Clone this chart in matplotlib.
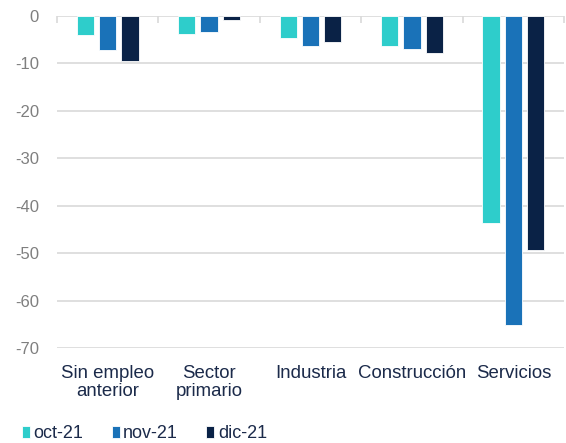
import matplotlib.pyplot as plt
import numpy as np

categories = ['Sin empleo\nanterior', 'Sector\nprimario', 'Industria', 'Construcción', 'Servicios']
oct_21 = [-4.0, -3.7, -4.7, -6.3, -43.7]
nov_21 = [-7.1, -3.4, -6.4, -7.0, -65.2]
dic_21 = [-9.5, -0.9, -5.4, -7.7, -49.4]
series = {'oct-21': oct_21, 'nov-21': nov_21, 'dic-21': dic_21}
colors = ['#2ECDCB', '#1A72B8', '#0A2246']

plt.rcParams['font.family'] = ['Liberation Sans', 'DejaVu Sans']
plt.rcParams['axes.unicode_minus'] = False
navy = '#1B2A4A'
grey = '#7F7F7F'

fig = plt.figure(figsize=(5.66, 4.43), dpi=100)
ax = fig.add_axes([57 / 566, 1 - 348 / 443, 507 / 566, 332 / 443])

x = np.arange(len(categories))
w = 0.17
step = 0.22
for i, (name, vals) in enumerate(series.items()):
    ax.bar(x + (i - 1) * step, vals, width=w, color=colors[i], label=name,
           edgecolor='white', linewidth=0.6, zorder=3)

ax.set_xlim(-0.5, len(categories) - 0.5)
ax.set_ylim(-70, 0)
ax.set_yticks(np.arange(-70, 1, 10))
ax.yaxis.grid(True, color='#D9D9D9', linewidth=1.2)
ax.set_axisbelow(True)
for s in ax.spines.values():
    s.set_visible(False)

ax.set_xticks(x)
ax.set_xticklabels(categories, fontsize=13.4, color=navy, linespacing=1.12)
ax.tick_params(axis='x', length=0, pad=12)
ax.tick_params(axis='y', length=0, labelsize=12, labelcolor=grey, pad=13)

# category separators on the zero line
ax.set_xticks(np.arange(-0.5, len(categories)), minor=True)
ax.tick_params(axis='x', which='minor', top=True, bottom=False, direction='in',
               length=5, color='#D9D9D9', width=1.2)

handles, labels = ax.get_legend_handles_labels()
fig.legend(handles, labels, loc='lower left', bbox_to_anchor=(0.01, -0.035), ncol=3,
           frameon=False, fontsize=13, labelcolor=navy, handlelength=0.45,
           handleheight=0.6, handletextpad=0.2, columnspacing=1.55)

fig.savefig('out.png', dpi=100)
